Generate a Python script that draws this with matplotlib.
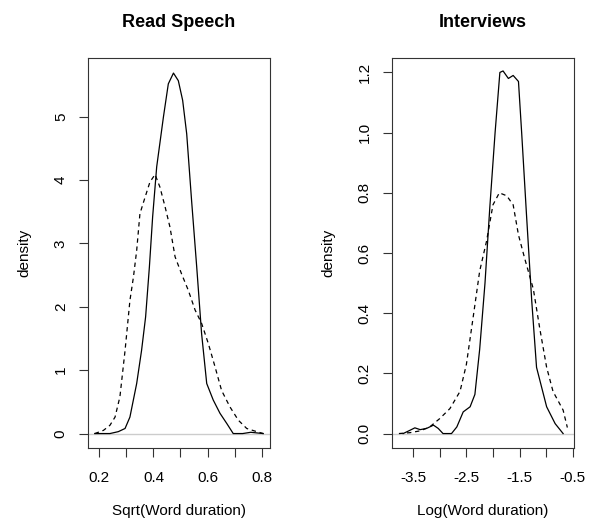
import numpy as np
import matplotlib
matplotlib.use("Agg")
import matplotlib.pyplot as plt

plt.rcParams['font.family'] = ['Liberation Sans', 'DejaVu Sans']

# Read speech: sqrt(word duration) densities
read_solid_x = [0.183, 0.239, 0.27, 0.295, 0.313, 0.338, 0.356, 0.371, 0.385, 0.397, 0.412,
                0.437, 0.455, 0.474, 0.492, 0.508, 0.523, 0.541, 0.56, 0.578, 0.597,
                0.621, 0.646, 0.671, 0.695, 0.73, 0.76, 0.806]
read_solid_y = [0.0, 0.0, 0.03, 0.08, 0.26, 0.79, 1.31, 1.84, 2.63, 3.42, 4.21,
                5.0, 5.52, 5.69, 5.57, 5.26, 4.73, 3.68, 2.63, 1.58, 0.79,
                0.53, 0.32, 0.16, 0.0, 0.0, 0.02, 0.0]
read_dash_x = [0.183, 0.215, 0.239, 0.258, 0.276, 0.295, 0.313, 0.326, 0.338, 0.35, 0.369,
               0.387, 0.406, 0.424, 0.443, 0.461, 0.48, 0.504, 0.529, 0.554, 0.578,
               0.603, 0.628, 0.652, 0.683, 0.714, 0.745, 0.782, 0.806]
read_dash_y = [0.0, 0.05, 0.13, 0.26, 0.58, 1.31, 2.10, 2.47, 2.89, 3.47, 3.73,
               3.97, 4.09, 3.89, 3.58, 3.26, 2.79, 2.52, 2.26, 1.95, 1.74,
               1.42, 1.05, 0.68, 0.42, 0.21, 0.08, 0.03, 0.0]

# Interviews: log(word duration) densities
int_solid_x = [-3.69, -3.56, -3.47, -3.37, -3.25, -3.12, -3.03, -2.94, -2.78, -2.68, -2.56,
               -2.43, -2.34, -2.25, -2.15, -2.06, -1.96, -1.87, -1.81, -1.71, -1.62,
               -1.52, -1.46, -1.37, -1.27, -1.18, -0.99, -0.83, -0.68]
int_solid_y = [0.0, 0.011, 0.019, 0.013, 0.017, 0.028, 0.017, 0.0, 0.0, 0.022, 0.072,
               0.089, 0.13, 0.28, 0.50, 0.75, 1.0, 1.20, 1.205, 1.18, 1.19,
               1.17, 1.0, 0.73, 0.44, 0.22, 0.089, 0.033, 0.0]
int_dash_x = [-3.77, -3.56, -3.37, -3.19, -3.0, -2.81, -2.62, -2.5, -2.37, -2.25, -2.12,
              -2.0, -1.88, -1.74, -1.62, -1.52, -1.4, -1.24, -1.12, -0.99, -0.87,
              -0.68, -0.6]
int_dash_y = [0.0, 0.003, 0.009, 0.022, 0.05, 0.083, 0.14, 0.23, 0.39, 0.54, 0.64,
              0.76, 0.80, 0.79, 0.76, 0.66, 0.58, 0.48, 0.35, 0.22, 0.14,
              0.078, 0.02]

fig = plt.figure(figsize=(5.92, 5.22), dpi=100)
ax1 = fig.add_axes([88 / 592, 74 / 522, 182 / 592, 390 / 522])
ax2 = fig.add_axes([392 / 592, 74 / 522, 182 / 592, 390 / 522])


def style(ax, xlim, ylim, xticks, xlabels, yticks, ylabels, title, xlabel):
    ax.axhline(0, color='#cccccc', lw=1, zorder=1)
    ax.set_xlim(*xlim)
    ax.set_ylim(*ylim)
    ax.set_xticks(xticks)
    ax.set_xticklabels(xlabels, fontsize=11)
    ax.set_yticks(yticks)
    ax.set_yticklabels(ylabels, fontsize=11, rotation=90, va='center')
    ax.tick_params(direction='out', length=6.5, width=0.8, color='#333333', pad=8)
    ax.tick_params(axis='x', pad=10)
    for s in ax.spines.values():
        s.set_color('#333333')
        s.set_linewidth(0.8)
    ax.set_title(title, fontsize=13, fontweight='bold', pad=22)
    ax.set_xlabel(xlabel, fontsize=11, labelpad=14)
    ax.set_ylabel('density', fontsize=11, labelpad=16)


ax1.plot(read_solid_x, read_solid_y, color='black', lw=0.9)
ax1.plot(read_dash_x, read_dash_y, color='black', lw=0.9, dashes=(3.5, 3))
style(ax1, (0.158, 0.831), (-0.228, 5.928),
      [0.2, 0.3, 0.4, 0.5, 0.6, 0.7, 0.8], ['0.2', '', '0.4', '', '0.6', '', '0.8'],
      [0, 1, 2, 3, 4, 5], ['0', '1', '2', '3', '4', '5'],
      'Read Speech', 'Sqrt(Word duration)')

ax2.plot(int_solid_x, int_solid_y, color='black', lw=0.9)
ax2.plot(int_dash_x, int_dash_y, color='black', lw=0.9, dashes=(3.5, 3))
style(ax2, (-3.90, -0.475), (-0.048, 1.248),
      [-3.5, -3.0, -2.5, -2.0, -1.5, -1.0, -0.5], ['-3.5', '', '-2.5', '', '-1.5', '', '-0.5'],
      [0.0, 0.2, 0.4, 0.6, 0.8, 1.0, 1.2], ['0.0', '0.2', '0.4', '0.6', '0.8', '1.0', '1.2'],
      'Interviews', 'Log(Word duration)')

fig.savefig('out.png', dpi=100)
